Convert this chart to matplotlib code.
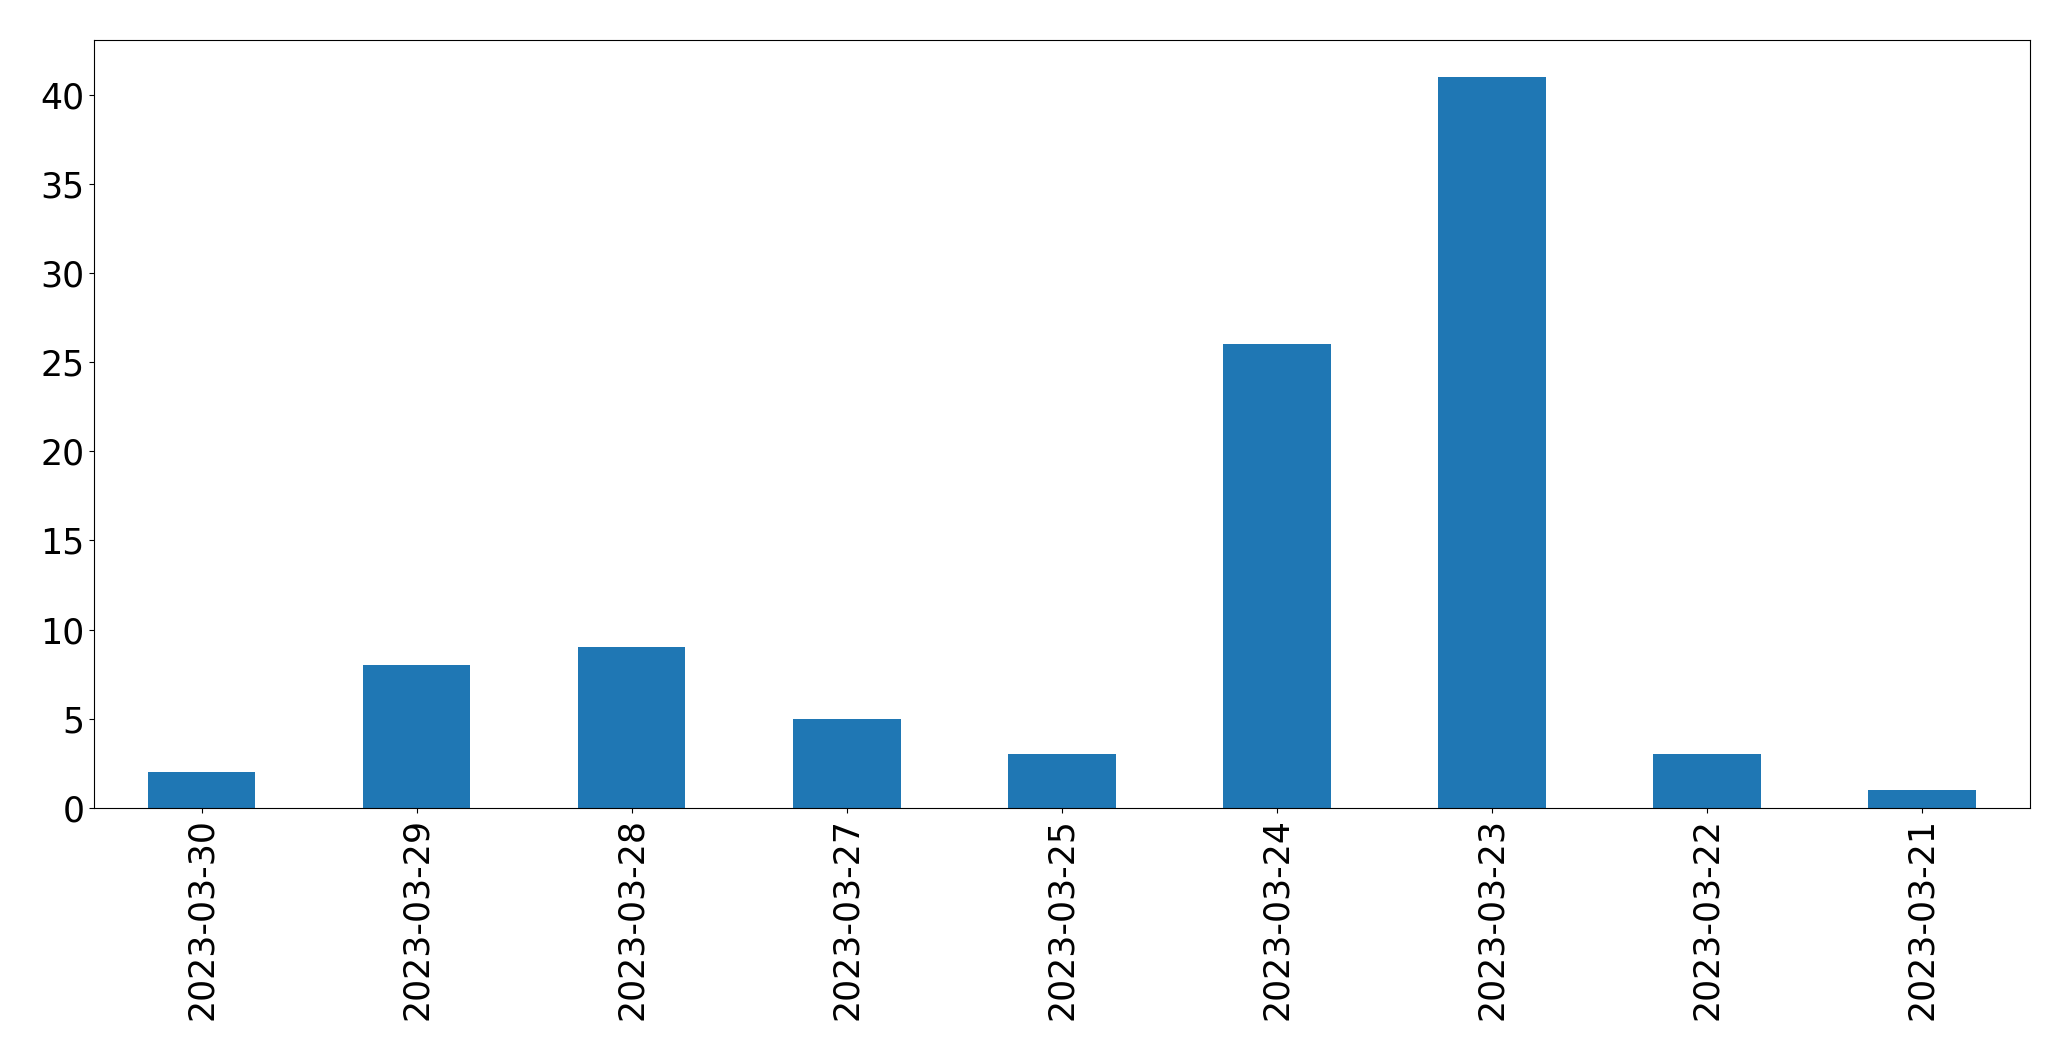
import matplotlib
matplotlib.use("Agg")
import matplotlib.pyplot as plt
import pandas as pd

dates = ["2023-03-30", "2023-03-29", "2023-03-28", "2023-03-27", "2023-03-25",
         "2023-03-24", "2023-03-23", "2023-03-22", "2023-03-21"]
counts = [2, 8, 9, 5, 3, 26, 41, 3, 1]

plt.rcParams.update({"font.size": 25})

fig = plt.figure(figsize=(20.71, 10.61), dpi=100)
ax = fig.add_axes([0.0454, 0.2385, 0.9346, 0.7235])

s = pd.Series(counts, index=dates)
s.plot(kind="bar", ax=ax, color="#1f77b4")
ax.tick_params(labelsize=25)

fig.savefig("out.png", dpi=100)
